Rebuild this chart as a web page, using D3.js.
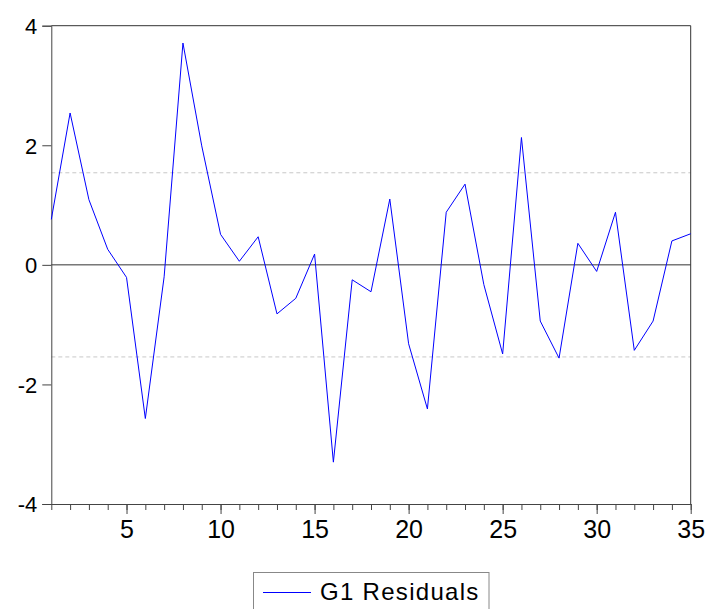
<!DOCTYPE html>
<html>
<head>
<meta charset="utf-8">
<script src="https://cdn.jsdelivr.net/npm/d3@7"></script>
<style>
body { margin: 0; background: #fff; }
svg { display: block; font-family: "Liberation Sans", Arial, sans-serif; }
</style>
</head>
<body>
<script>
var obs = d3.range(1, 36);
var residuals = [0.76, 2.54, 1.09, 0.26, -0.21, -2.57, -0.2, 3.71, 1.99, 0.51,
	0.06, 0.47, -0.82, -0.56, 0.18, -3.3, -0.25, -0.45, 1.1, -1.32,
	-2.41, 0.88, 1.35, -0.33, -1.49, 2.13, -0.94, -1.56, 0.36, -0.11,
	0.88, -1.43, -0.94, 0.4, 0.52];
var bandLevels = [1.54, -1.54];
var yTicks = [-4, -2, 0, 2, 4];
var xTicks = [5, 10, 15, 20, 25, 30, 35];
var seriesName = "G1 Residuals";

var width = 709, height = 609;
var plotLeft = 51.3, plotRight = 690.7, plotTop = 25.7, plotBottom = 504;

var svg = d3.select("body").append("svg")
	.attr("width", width)
	.attr("height", height);

var x = d3.scaleLinear().domain([1, 35]).range([plotLeft, plotRight]);
var y = d3.scaleLinear().domain([-4, 4]).range([plotBottom, plotTop]);

// dashed band lines
svg.selectAll(".band")
	.data(bandLevels)
	.enter().append("line")
	.attr("class", "band")
	.attr("x1", plotLeft).attr("x2", plotRight)
	.attr("y1", function(d) {return y(d);})
	.attr("y2", function(d) {return y(d);})
	.style("stroke", "#c8c8c8")
	.style("stroke-width", 1)
	.style("stroke-dasharray", "4,3");

// zero line
svg.append("line")
	.attr("x1", plotLeft).attr("x2", plotRight)
	.attr("y1", y(0)).attr("y2", y(0))
	.style("stroke", "#333")
	.style("stroke-width", 1);

// frame top and right
svg.append("path")
	.attr("d", "M" + plotLeft + "," + plotTop + "H" + plotRight + "V" + plotBottom)
	.style("fill", "none")
	.style("stroke", "#333")
	.style("stroke-width", 1);

// y axis (plain hyphen for negatives, like the original)
var yAxis = svg.append("g")
	.attr("transform", "translate(" + plotLeft + ",0)")
	.call(d3.axisLeft(y).tickValues(yTicks).tickSize(9).tickPadding(5)
		.tickFormat(function(d) {return String(d);}));
yAxis.selectAll("text").style("font-size", "22px").style("fill", "#000")
	.attr("dy", "0.36em");

// x axis: minor ticks every observation, labels every 5
var xMinor = svg.append("g")
	.attr("transform", "translate(0," + plotBottom + ")")
	.call(d3.axisBottom(x).tickValues(obs).tickSize(6).tickFormat(""));
xMinor.select(".domain").remove();
var xAxis = svg.append("g")
	.attr("transform", "translate(0," + plotBottom + ")")
	.call(d3.axisBottom(x).tickValues(xTicks).tickSize(10).tickPadding(6).tickSizeOuter(0));
xAxis.selectAll("text").style("font-size", "25px").style("fill", "#000");

svg.selectAll(".domain, .tick line").style("stroke", "#444");

// the series
var line = d3.line()
	.x(function(d, i) {return x(obs[i]);})
	.y(function(d) {return y(d);});

svg.append("path")
	.datum(residuals)
	.attr("d", line)
	.style("fill", "none")
	.style("stroke", "#0000ff")
	.style("stroke-width", 1);

// legend
var legend = svg.append("g");
legend.append("rect")
	.attr("x", 253.5).attr("y", 572.5)
	.attr("width", 235.5).attr("height", 45)
	.style("fill", "#fff")
	.style("stroke", "#888");
legend.append("line")
	.attr("x1", 263).attr("x2", 311)
	.attr("y1", 592.5).attr("y2", 592.5)
	.style("stroke", "#0000ff");
legend.append("text")
	.attr("x", 320).attr("y", 600)
	.style("font-size", "24px")
	.style("letter-spacing", "1.3px")
	.text(seriesName);
</script>
</body>
</html>
